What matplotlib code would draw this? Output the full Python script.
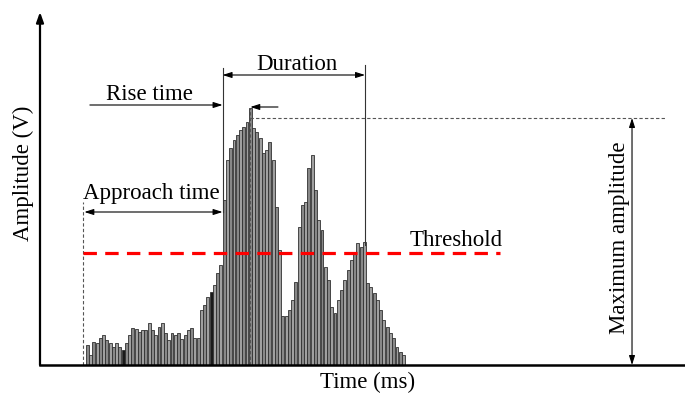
import matplotlib
matplotlib.use("Agg")
import matplotlib.pyplot as plt
import numpy as np

# acoustic emission hit, amplitude of each sample (V)
amplitude = [0.20, 0.10, 0.23, 0.22, 0.27, 0.30, 0.25, 0.22, 0.18, 0.22,
             0.18, 0.15, 0.22, 0.30, 0.37, 0.36, 0.33, 0.35, 0.35, 0.42,
             0.35, 0.30, 0.38, 0.42, 0.32, 0.25, 0.32, 0.30, 0.32, 0.26,
             0.30, 0.35, 0.37, 0.27, 0.27, 0.55, 0.60, 0.68, 0.73, 0.80,
             0.92, 1.00, 1.65, 2.05, 2.17, 2.25, 2.30, 2.35, 2.38, 2.43,
             2.57, 2.37, 2.33, 2.27, 2.12, 2.15, 2.23, 2.05, 1.58, 1.15,
             0.49, 0.49, 0.55, 0.65, 0.83, 1.38, 1.60, 1.63, 1.97, 2.10,
             1.75, 1.45, 1.35, 0.98, 0.85, 0.58, 0.52, 0.65, 0.75, 0.85,
             0.95, 1.05, 1.12, 1.22, 1.18, 1.23, 0.82, 0.78, 0.72, 0.65,
             0.55, 0.45, 0.38, 0.32, 0.27, 0.18, 0.13, 0.10]
t0 = 14.5          # ms, first sample
dt = 1.0           # ms, sample spacing
dark_samples = [11, 38]

t_arrival = 13.2   # ms
t_cross = 56.0     # ms, first threshold crossing
t_end = 99.7       # ms, last threshold crossing
threshold = 1.12   # V
max_amp = 2.47     # V

times = t0 + dt * np.arange(len(amplitude))
t_peak = times[int(np.argmax(amplitude))]

plt.rcParams['font.family'] = ['Liberation Serif', 'DejaVu Serif']
plt.rcParams['font.size'] = 16.5

fig = plt.figure(figsize=(6.85, 3.94), dpi=100)
ax = fig.add_axes([40 / 685, 29 / 394, 645 / 685, 353 / 394])
xmax, ymax = 645 / 3.26, 3.53
ax.set_xlim(0, xmax)
ax.set_ylim(0, ymax)
ax.axis('off')

colors = ['#1a1a1a' if i in dark_samples else ('#a0a0a0' if i % 2 else '#888888')
          for i in range(len(amplitude))]
ax.bar(times, amplitude, width=0.9, color=colors, edgecolor='#303030',
       linewidth=0.6, zorder=2)

# axes
ax.plot([0, xmax], [0, 0], color='black', lw=1.8, clip_on=False, zorder=5)
ax.annotate('', xy=(0, ymax), xytext=(0, 0), annotation_clip=False,
            arrowprops=dict(arrowstyle='-|>,head_length=0.5,head_width=0.18',
                            mutation_scale=12, lw=1.6, color='black',
                            shrinkA=0, shrinkB=0))

# threshold
ax.plot([t_arrival, 141], [threshold, threshold], color='#ff0000', lw=2.3,
        linestyle=(0, (4.2, 2.6)), zorder=4)
ax.text(127.6, 1.25, 'Threshold', ha='center', va='center')

# guide lines
gl = dict(color='#555555', lw=0.8, linestyle=(0, (3, 2)), zorder=3)
ax.plot([t_arrival, t_arrival], [0, 1.63], **gl)
ax.plot([t_peak, t_peak], [0, max(amplitude)], **gl)
ax.plot([t_peak, 191.7], [max_amp, max_amp], **gl)
ax.plot([t_cross, t_cross], [1.53, 2.97], color='#333333', lw=0.8, zorder=3)
ax.plot([t_end, t_end], [1.20, 3.00], color='#333333', lw=0.8, zorder=3)

both = dict(arrowstyle='<|-|>,head_length=0.5,head_width=0.16', mutation_scale=11,
            lw=0.8, color='black', shrinkA=0, shrinkB=0)
one = dict(both, arrowstyle='-|>,head_length=0.5,head_width=0.16')

ax.annotate('', xy=(t_arrival + 0.4, 1.53), xytext=(t_cross, 1.53), arrowprops=both)
ax.text(34.0, 1.72, 'Approach time', ha='center', va='center')

ax.annotate('', xy=(t_cross, 2.60), xytext=(15.3, 2.60), arrowprops=one)
ax.annotate('', xy=(t_peak, 2.58), xytext=(73.0, 2.58), arrowprops=one)
ax.text(33.7, 2.71, 'Rise time', ha='center', va='center')

ax.annotate('', xy=(t_cross, 2.90), xytext=(t_end, 2.90), arrowprops=both)
ax.text(78.8, 3.01, 'Duration', ha='center', va='center')

ax.annotate('', xy=(181.6, max_amp), xytext=(181.6, 0), arrowprops=both,
            annotation_clip=False)
ax.text(177.9, 1.27, 'Maximum amplitude', ha='center', va='center', rotation=90)

fig.text(23 / 685, 1 - 173 / 394, 'Amplitude (V)', ha='center', va='center',
         rotation=90)
fig.text(368 / 685, 1 - 382 / 394, 'Time (ms)', ha='center', va='center')

fig.savefig('out.png', dpi=100)
